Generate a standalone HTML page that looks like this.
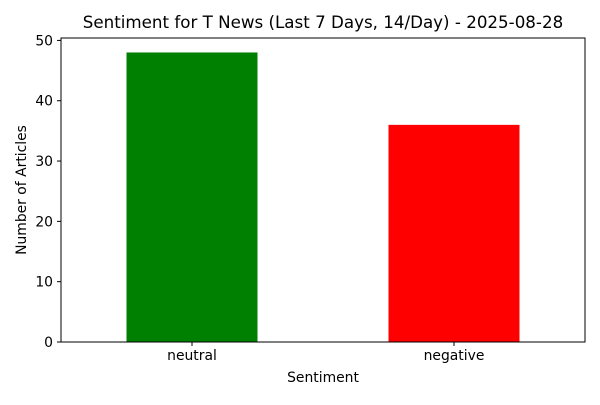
<!DOCTYPE html>
<html><head><meta charset="utf-8"><style>
body{margin:0;background:#fff;font-family:"Liberation Sans","DejaVu Sans",sans-serif;}
</style></head><body>
<svg id="chart" width="600" height="400" xmlns="http://www.w3.org/2000/svg">
<rect width="600" height="400" fill="#fff"/>
<text x="323" y="28" text-anchor="middle" font-size="16.7" fill="#000" font-family="DejaVu Sans, sans-serif">Sentiment for T News (Last 7 Days, 14/Day) - 2025-08-28</text>
<g id="plot"></g>
<text x="323" y="382" text-anchor="middle" font-size="13.9" font-family="DejaVu Sans, sans-serif">Sentiment</text>
<text transform="translate(26,190) rotate(-90)" text-anchor="middle" font-size="13.9" font-family="DejaVu Sans, sans-serif">Number of Articles</text>
</svg>
<script>
const categories = ["neutral","negative"];
const values = [48,36];
const colors = ["#008000","#ff0000"];
const yTicks = [0,10,20,30,40,50];
const L=61,R=585,T=38,B=342,yMax=50.4;
const ns="http://www.w3.org/2000/svg";
const g=document.getElementById("plot");
const y=v=>B-(v/yMax)*(B-T);
const unit=(R-L)/categories.length;
const x=i=>L+unit*(i+0.5);
function mk(tag,attrs){const e=document.createElementNS(ns,tag);for(const k in attrs)e.setAttribute(k,attrs[k]);g.appendChild(e);return e;}
categories.forEach((c,i)=>{
  const w=unit*0.5;
  const r=mk("rect",{x:x(i)-w/2,y:y(values[i]),width:w,height:B-y(values[i]),fill:colors[i]});
  
  
  const t=mk("line",{x1:x(i),x2:x(i),y1:B,y2:B+4,stroke:"#000"});
  
  
  const l=mk("text",{x:x(i),y:B+18,"text-anchor":"middle","font-size":"13.9","font-family":"DejaVu Sans, sans-serif"});
  l.textContent=c;
  
  
});
yTicks.forEach(v=>{
  const t=mk("line",{x1:L-4,x2:L,y1:y(v),y2:y(v),stroke:"#000"});
  
  
  const l=mk("text",{x:L-8,y:y(v)+5,"text-anchor":"end","font-size":"13.9","font-family":"DejaVu Sans, sans-serif"});
  l.textContent=v;
  
  
});
const f=mk("rect",{x:L,y:T,width:R-L,height:B-T,fill:"none",stroke:"#000","stroke-width":"1"});


</script>
</body></html>
